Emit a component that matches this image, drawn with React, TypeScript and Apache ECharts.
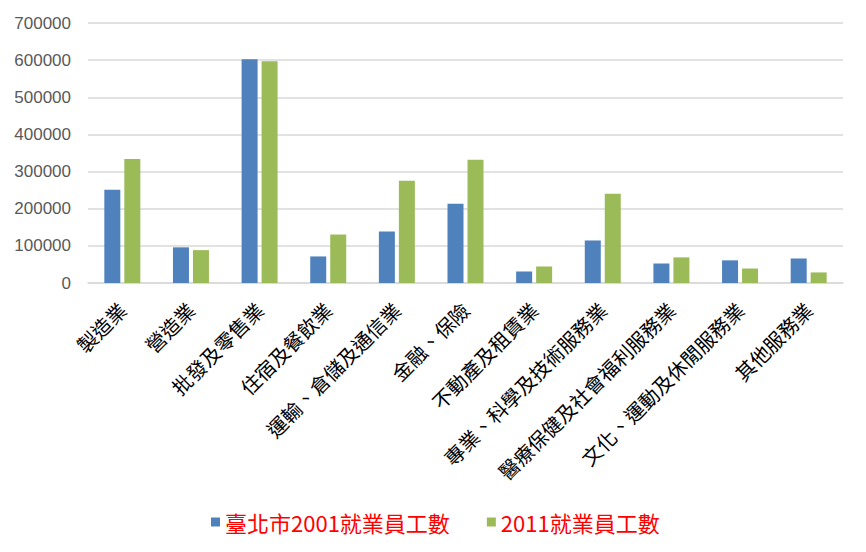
import React, { useEffect, useRef } from "react";
import * as echarts from "echarts";

const categories = [
  "製造業",
  "營造業",
  "批發及零售業",
  "住宿及餐飲業",
  "運輸、倉儲及通信業",
  "金融、保險",
  "不動產及租賃業",
  "專業、科學及技術服務業",
  "醫療保健及社會福利服務業",
  "文化、運動及休閒服務業",
  "其他服務業",
];
const series2001 = [251000, 96000, 602500, 71500, 138500, 213500, 31000, 114500, 52500, 61000, 66000];
const series2011 = [334000, 88500, 597000, 130500, 275000, 331500, 44500, 240500, 69000, 39000, 28500];
const seriesNames = ["臺北市2001就業員工數", "2011就業員工數"];

export default function App() {
  const ref = useRef<HTMLDivElement>(null);
  useEffect(() => {
    if (!ref.current) return;
    const chart = echarts.init(ref.current, undefined, { renderer: "svg" });
    chart.setOption({
      animation: false,
      backgroundColor: "#ffffff",
      grid: { left: 88, right: 23, top: 23, bottom: 269, containLabel: false },
      legend: {
        data: seriesNames,
        top: 506,
        left: 206,
        icon: "rect",
        itemWidth: 9,
        itemHeight: 9,
        itemGap: 37,
        textStyle: {
          color: "#FF0000",
          fontSize: 22,
          fontFamily: "'Noto Sans CJK TC', serif",
        },
      },
      xAxis: {
        type: "category",
        data: categories,
        axisLine: { lineStyle: { color: "#D9D9D9", width: 1.5 } },
        axisTick: { show: false },
        axisLabel: {
          rotate: 45,
          interval: 0,
          margin: 23,
          color: "#000000",
          fontSize: 20,
          fontFamily: "'Noto Sans CJK TC', serif",
        },
      },
      yAxis: {
        type: "value",
        min: 0,
        max: 700000,
        interval: 100000,
        axisLine: { show: false },
        axisTick: { show: false },
        splitLine: { lineStyle: { color: "#D9D9D9", width: 1.5 } },
        axisLabel: {
          color: "#595959",
          fontSize: 17,
          margin: 17,
          fontFamily: "'Liberation Sans', Arial, sans-serif",
          formatter: (v: number) => String(v),
        },
      },
      series: [
        {
          name: seriesNames[0],
          type: "bar",
          data: series2001,
          barWidth: 16,
          barGap: "25%",
          itemStyle: { color: "#4F81BD" },
        },
        {
          name: seriesNames[1],
          type: "bar",
          data: series2011,
          barWidth: 16,
          barGap: "25%",
          itemStyle: { color: "#9BBB59" },
        },
      ],
    });
    return () => chart.dispose();
  }, []);
  return (
    <div
      ref={ref}
      style={{ position: "fixed", left: 0, top: 0, width: 866, height: 552, background: "#fff" }}
    />
  );
}
